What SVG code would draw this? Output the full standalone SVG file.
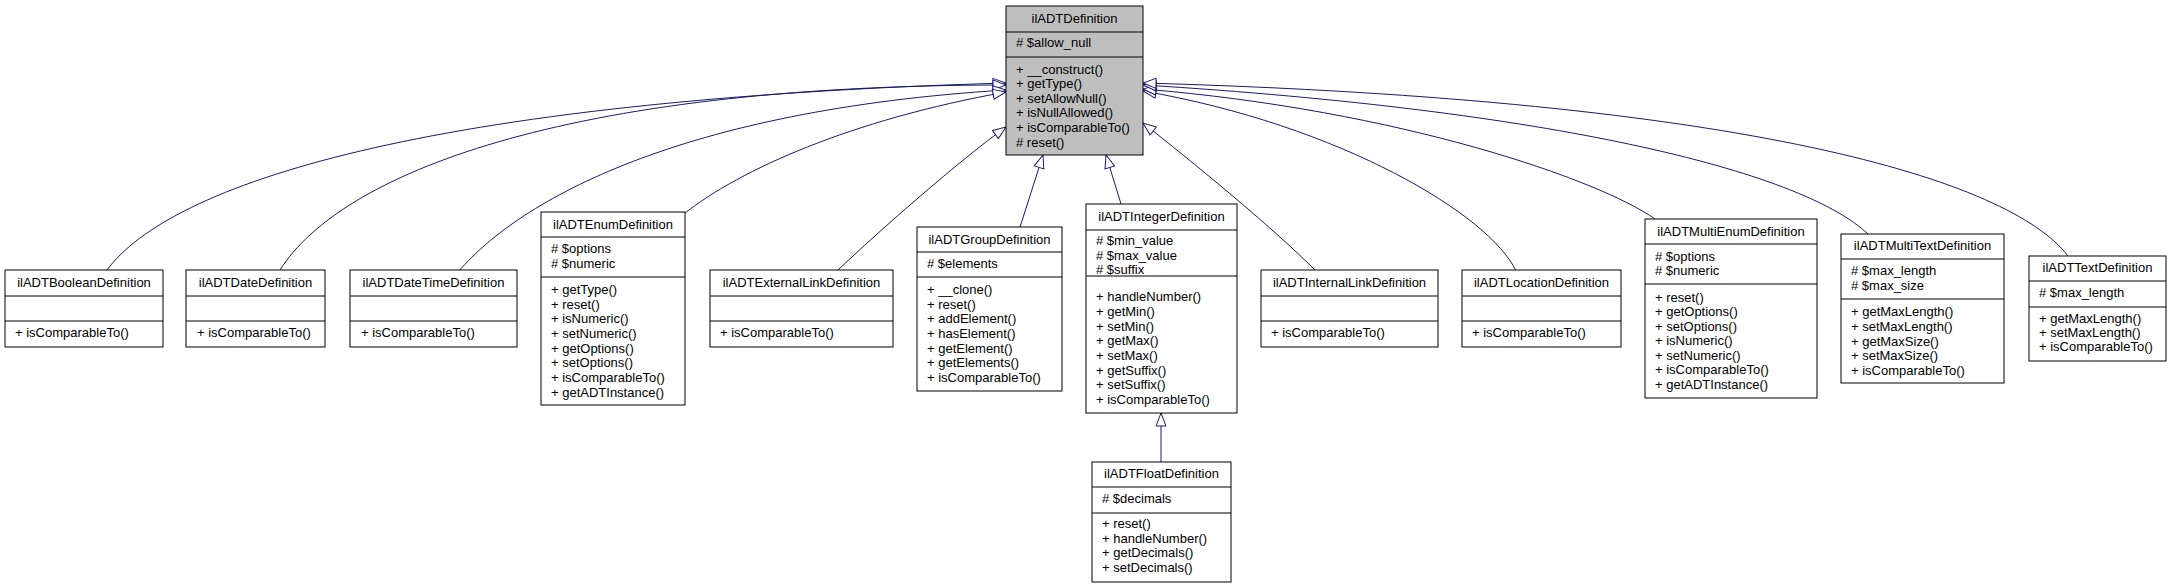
<svg xmlns="http://www.w3.org/2000/svg" width="2171" height="588" viewBox="0 0 2171 588">
<style>
text{font-family:"Liberation Sans",Arial,Helvetica,sans-serif;font-size:13px;fill:#000}
.t{text-anchor:middle}
.box{fill:#fff;stroke:#000;stroke-width:1}
.base{fill:#bfbfbf;stroke:#000;stroke-width:1}
.sep{stroke:#000;stroke-width:1}
.e{fill:none;stroke:#191970;stroke-width:1;marker-end:url(#tri)}
</style>
<defs>
<marker id="tri" markerUnits="userSpaceOnUse" markerWidth="16" markerHeight="14" refX="14" refY="7" orient="auto" viewBox="0 0 16 14">
<path d="M1,2 L14,7 L1,12 Z" fill="#fff" stroke="#191970" stroke-width="1"/>
</marker>
</defs>
<g id="connectors">
<path class="e" d="M107,270 C170,185 420,100 1006,83"/>
<path class="e" d="M280,270 C340,175 560,85 1006,85"/>
<path class="e" d="M459,271 C520,200 680,110 1006,90"/>
<path class="e" d="M685,213 C740,170 850,120 1006,92"/>
<path class="e" d="M837,271 C880,230 960,160 1006,127"/>
<path class="e" d="M1020,227 L1043,155"/>
<path class="e" d="M1121,204 L1106,155"/>
<path class="e" d="M1316,271 C1270,225 1190,160 1143,123"/>
<path class="e" d="M1516,271 C1490,215 1340,125 1143,91"/>
<path class="e" d="M1655,219 C1600,180 1400,110 1143,89"/>
<path class="e" d="M1868,234 C1800,170 1550,110 1143,85"/>
<path class="e" d="M2068,256 C2010,180 1750,100 1143,83"/>
<path class="e" d="M1161,462 L1161,413"/>
</g>
<g id="ilADTDefinition">
<rect class="base" x="1006" y="6" width="137" height="149"/>
<line class="sep" x1="1006" y1="32" x2="1143" y2="32"/>
<line class="sep" x1="1006" y1="57" x2="1143" y2="57"/>
<text class="t" x="1074.5" y="22.5">ilADTDefinition</text>
<text x="1016" y="47">#&#160;$allow_null</text>
<text x="1016"><tspan x="1016" y="73.5">+ __construct()</tspan><tspan x="1016" y="88.1">+ getType()</tspan><tspan x="1016" y="102.8">+ setAllowNull()</tspan><tspan x="1016" y="117.4">+ isNullAllowed()</tspan><tspan x="1016" y="132.1">+ isComparableTo()</tspan><tspan x="1016" y="146.7"># reset()</tspan></text>
</g>
<g id="ilADTBooleanDefinition">
<rect class="box" x="5" y="270" width="158" height="77"/>
<line class="sep" x1="5" y1="296" x2="163" y2="296"/>
<line class="sep" x1="5" y1="321" x2="163" y2="321"/>
<text class="t" x="84" y="287">ilADTBooleanDefinition</text>
<text x="15" y="337">+ isComparableTo()</text>
</g>
<g id="ilADTDateDefinition">
<rect class="box" x="186" y="270" width="139" height="77"/>
<line class="sep" x1="186" y1="296" x2="325" y2="296"/>
<line class="sep" x1="186" y1="321" x2="325" y2="321"/>
<text class="t" x="255.5" y="287">ilADTDateDefinition</text>
<text x="197" y="337">+ isComparableTo()</text>
</g>
<g id="ilADTDateTimeDefinition">
<rect class="box" x="350" y="270" width="167" height="77"/>
<line class="sep" x1="350" y1="296" x2="517" y2="296"/>
<line class="sep" x1="350" y1="321" x2="517" y2="321"/>
<text class="t" x="433.5" y="287">ilADTDateTimeDefinition</text>
<text x="361" y="337">+ isComparableTo()</text>
</g>
<g id="ilADTEnumDefinition">
<rect class="box" x="541" y="212" width="144" height="193"/>
<line class="sep" x1="541" y1="237" x2="685" y2="237"/>
<line class="sep" x1="541" y1="277" x2="685" y2="277"/>
<text class="t" x="613" y="228.5">ilADTEnumDefinition</text>
<text><tspan x="551" y="253"># $options</tspan><tspan x="551" y="267.5"># $numeric</tspan></text>
<text><tspan x="551" y="294">+ getType()</tspan><tspan x="551" y="308.6">+ reset()</tspan><tspan x="551" y="323.3">+ isNumeric()</tspan><tspan x="551" y="337.9">+ setNumeric()</tspan><tspan x="551" y="352.6">+ getOptions()</tspan><tspan x="551" y="367.2">+ setOptions()</tspan><tspan x="551" y="381.9">+ isComparableTo()</tspan><tspan x="551" y="396.5">+ getADTInstance()</tspan></text>
</g>
<g id="ilADTExternalLinkDefinition">
<rect class="box" x="710" y="270" width="183" height="77"/>
<line class="sep" x1="710" y1="296" x2="893" y2="296"/>
<line class="sep" x1="710" y1="321" x2="893" y2="321"/>
<text class="t" x="801.5" y="287">ilADTExternalLinkDefinition</text>
<text x="720" y="337">+ isComparableTo()</text>
</g>
<g id="ilADTGroupDefinition">
<rect class="box" x="917" y="227" width="145" height="164"/>
<line class="sep" x1="917" y1="252" x2="1062" y2="252"/>
<line class="sep" x1="917" y1="277" x2="1062" y2="277"/>
<text class="t" x="989.5" y="243.5">ilADTGroupDefinition</text>
<text x="927" y="268"># $elements</text>
<text><tspan x="927" y="294">+ __clone()</tspan><tspan x="927" y="308.6">+ reset()</tspan><tspan x="927" y="323.3">+ addElement()</tspan><tspan x="927" y="337.9">+ hasElement()</tspan><tspan x="927" y="352.6">+ getElement()</tspan><tspan x="927" y="367.2">+ getElements()</tspan><tspan x="927" y="381.9">+ isComparableTo()</tspan></text>
</g>
<g id="ilADTIntegerDefinition">
<rect class="box" x="1086" y="204" width="151" height="209"/>
<line class="sep" x1="1086" y1="230" x2="1237" y2="230"/>
<line class="sep" x1="1086" y1="276" x2="1237" y2="276"/>
<text class="t" x="1161.5" y="220.5">ilADTIntegerDefinition</text>
<text><tspan x="1096" y="245"># $min_value</tspan><tspan x="1096" y="259.5"># $max_value</tspan><tspan x="1096" y="274"># $suffix</tspan></text>
<text><tspan x="1096" y="301.3">+ handleNumber()</tspan><tspan x="1096" y="315.9">+ getMin()</tspan><tspan x="1096" y="330.6">+ setMin()</tspan><tspan x="1096" y="345.2">+ getMax()</tspan><tspan x="1096" y="359.9">+ setMax()</tspan><tspan x="1096" y="374.5">+ getSuffix()</tspan><tspan x="1096" y="389.2">+ setSuffix()</tspan><tspan x="1096" y="403.8">+ isComparableTo()</tspan></text>
</g>
<g id="ilADTFloatDefinition">
<rect class="box" x="1092" y="462" width="139" height="120"/>
<line class="sep" x1="1092" y1="487" x2="1231" y2="487"/>
<line class="sep" x1="1092" y1="513" x2="1231" y2="513"/>
<text class="t" x="1161.5" y="478">ilADTFloatDefinition</text>
<text x="1102" y="503"># $decimals</text>
<text><tspan x="1102" y="528">+ reset()</tspan><tspan x="1102" y="542.6">+ handleNumber()</tspan><tspan x="1102" y="557.3">+ getDecimals()</tspan><tspan x="1102" y="571.9">+ setDecimals()</tspan></text>
</g>
<g id="ilADTInternalLinkDefinition">
<rect class="box" x="1261" y="270" width="177" height="77"/>
<line class="sep" x1="1261" y1="296" x2="1438" y2="296"/>
<line class="sep" x1="1261" y1="321" x2="1438" y2="321"/>
<text class="t" x="1349.5" y="287">ilADTInternalLinkDefinition</text>
<text x="1271" y="337">+ isComparableTo()</text>
</g>
<g id="ilADTLocationDefinition">
<rect class="box" x="1462" y="270" width="159" height="77"/>
<line class="sep" x1="1462" y1="296" x2="1621" y2="296"/>
<line class="sep" x1="1462" y1="321" x2="1621" y2="321"/>
<text class="t" x="1541.5" y="287">ilADTLocationDefinition</text>
<text x="1472" y="337">+ isComparableTo()</text>
</g>
<g id="ilADTMultiEnumDefinition">
<rect class="box" x="1645" y="219" width="172" height="179"/>
<line class="sep" x1="1645" y1="244" x2="1817" y2="244"/>
<line class="sep" x1="1645" y1="284" x2="1817" y2="284"/>
<text class="t" x="1731" y="235.5">ilADTMultiEnumDefinition</text>
<text><tspan x="1655" y="261"># $options</tspan><tspan x="1655" y="275"># $numeric</tspan></text>
<text><tspan x="1655" y="301.8">+ reset()</tspan><tspan x="1655" y="316.3">+ getOptions()</tspan><tspan x="1655" y="330.7">+ setOptions()</tspan><tspan x="1655" y="345.2">+ isNumeric()</tspan><tspan x="1655" y="359.6">+ setNumeric()</tspan><tspan x="1655" y="374.1">+ isComparableTo()</tspan><tspan x="1655" y="388.5">+ getADTInstance()</tspan></text>
</g>
<g id="ilADTMultiTextDefinition">
<rect class="box" x="1841" y="234" width="163" height="149"/>
<line class="sep" x1="1841" y1="259" x2="2004" y2="259"/>
<line class="sep" x1="1841" y1="299" x2="2004" y2="299"/>
<text class="t" x="1922.5" y="250">ilADTMultiTextDefinition</text>
<text><tspan x="1851" y="275"># $max_length</tspan><tspan x="1851" y="290"># $max_size</tspan></text>
<text><tspan x="1851" y="316">+ getMaxLength()</tspan><tspan x="1851" y="330.7">+ setMaxLength()</tspan><tspan x="1851" y="345.5">+ getMaxSize()</tspan><tspan x="1851" y="360.2">+ setMaxSize()</tspan><tspan x="1851" y="375">+ isComparableTo()</tspan></text>
</g>
<g id="ilADTTextDefinition">
<rect class="box" x="2029" y="256" width="137" height="105"/>
<line class="sep" x1="2029" y1="281" x2="2166" y2="281"/>
<line class="sep" x1="2029" y1="307" x2="2166" y2="307"/>
<text class="t" x="2097.5" y="272">ilADTTextDefinition</text>
<text x="2039" y="297"># $max_length</text>
<text><tspan x="2039" y="323">+ getMaxLength()</tspan><tspan x="2039" y="337">+ setMaxLength()</tspan><tspan x="2039" y="351">+ isComparableTo()</tspan></text>
</g>
</svg>
